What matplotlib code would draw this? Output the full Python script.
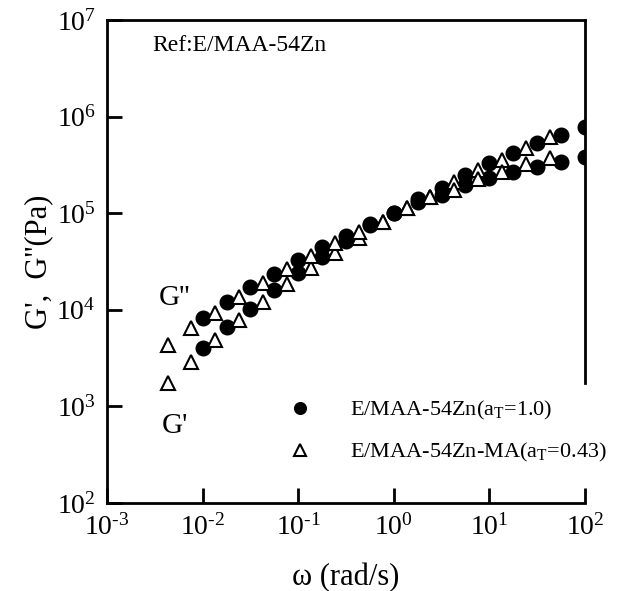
import matplotlib
matplotlib.use("Agg")
from matplotlib import pyplot as plt
from matplotlib.ticker import FuncFormatter
from numpy import log10

plt.rcParams['font.family'] = ['Liberation Serif', 'DejaVu Serif']
plt.rcParams['mathtext.fontset'] = 'custom'
plt.rcParams['mathtext.rm'] = 'Liberation Serif'
plt.rcParams['mathtext.default'] = 'regular'

# E/MAA-54Zn (aT = 1.0), filled circles
w_zn = [0.01, 0.0178, 0.0316, 0.0562, 0.1, 0.178, 0.316, 0.562, 1.0,
        1.78, 3.16, 5.62, 10.0, 17.8, 31.6, 56.2, 100.0]
g1_zn = [3990, 6590, 10250, 15850, 24000, 35200, 51900, 75500, 99800,
         138700, 181100, 248300, 328900, 416900, 529700, 645700, 785200]
g2_zn = [8170, 11970, 17100, 23660, 32510, 44360, 58480, 76740, 99770,
         131500, 154200, 195900, 229600, 269200, 302700, 341200, 379300]

# E/MAA-54Zn-MA (aT = 0.43), open triangles
w_ma = [0.0043, 0.00765, 0.0136, 0.0242, 0.043, 0.0765, 0.136, 0.242, 0.43,
        0.765, 1.36, 2.42, 4.3, 7.65, 13.6, 24.2, 43.0]
g1_ma = [1730, 2900, 4860, 7830, 12130, 18280, 27290, 38990, 55720,
         81660, 112500, 148300, 211800, 279900, 355600, 469900, 610900]
g2_ma = [4330, 6430, 9330, 13460, 19100, 26240, 36060, 49550, 64270,
         81660, 112500, 146200, 173800, 225900, 269200, 322800, 369800]

labels = ['E/MAA-54Zn(a$_{T}$=1.0)', 'E/MAA-54Zn-MA(a$_{T}$=0.43)']


def potencia(v, pos):
  e = int(round(log10(v)))
  signo = '\u2010' if e < 0 else ''
  return '10$^{%s%d}$' % (signo, abs(e))


fig = plt.figure(figsize=(6.32, 5.91), dpi=100)
ax = fig.add_axes([0.1693, 0.1489, 0.7563, 0.8173])

circ = dict(linestyle='none', marker='o', markersize=10.5, color='black')
tri = dict(linestyle='none', marker='^', markersize=10.5, markerfacecolor='white',
           markeredgecolor='black', markeredgewidth=1.5)

h1, = ax.plot(w_zn, g1_zn, **circ)
ax.plot(w_zn, g2_zn, **circ)
h2, = ax.plot(w_ma, g1_ma, **tri)
ax.plot(w_ma, g2_ma, **tri)

ax.set_xscale('log')
ax.set_yscale('log')
ax.set_xlim(1e-3, 1e2)
ax.set_ylim(1e2, 1e7)
ax.minorticks_off()
ax.xaxis.set_major_formatter(FuncFormatter(potencia))
ax.yaxis.set_major_formatter(FuncFormatter(potencia))
ax.tick_params(which='major', direction='in', length=11, width=2, labelsize=20,
               top=False, right=False, pad=8)

for s in ax.spines.values():
  s.set_linewidth(2)
ax.spines['right'].set_bounds(1750, 1e7)

ax.set_xlabel('ω (rad/s)', fontsize=22, labelpad=16)
ax.set_ylabel("G',  G''(Pa)", fontsize=22, labelpad=2)

ax.text(0.095, 0.968, 'Ref:E/MAA-54Zn', transform=ax.transAxes, fontsize=17,
        va='top', ha='left')
ax.text(0.108, 0.425, "G''", transform=ax.transAxes, fontsize=21, ha='left', va='center')
ax.text(0.115, 0.16, "G'", transform=ax.transAxes, fontsize=21, ha='left', va='center')

ax.legend([h1, h2], labels, loc='upper left', bbox_to_anchor=(0.440, 0.3435),
          bbox_transform=fig.transFigure, frameon=False, fontsize=16,
          handlelength=1.0, handletextpad=1.75, labelspacing=0.87, borderpad=0,
          markerscale=0.8)

plt.savefig('out.png', dpi=100)
